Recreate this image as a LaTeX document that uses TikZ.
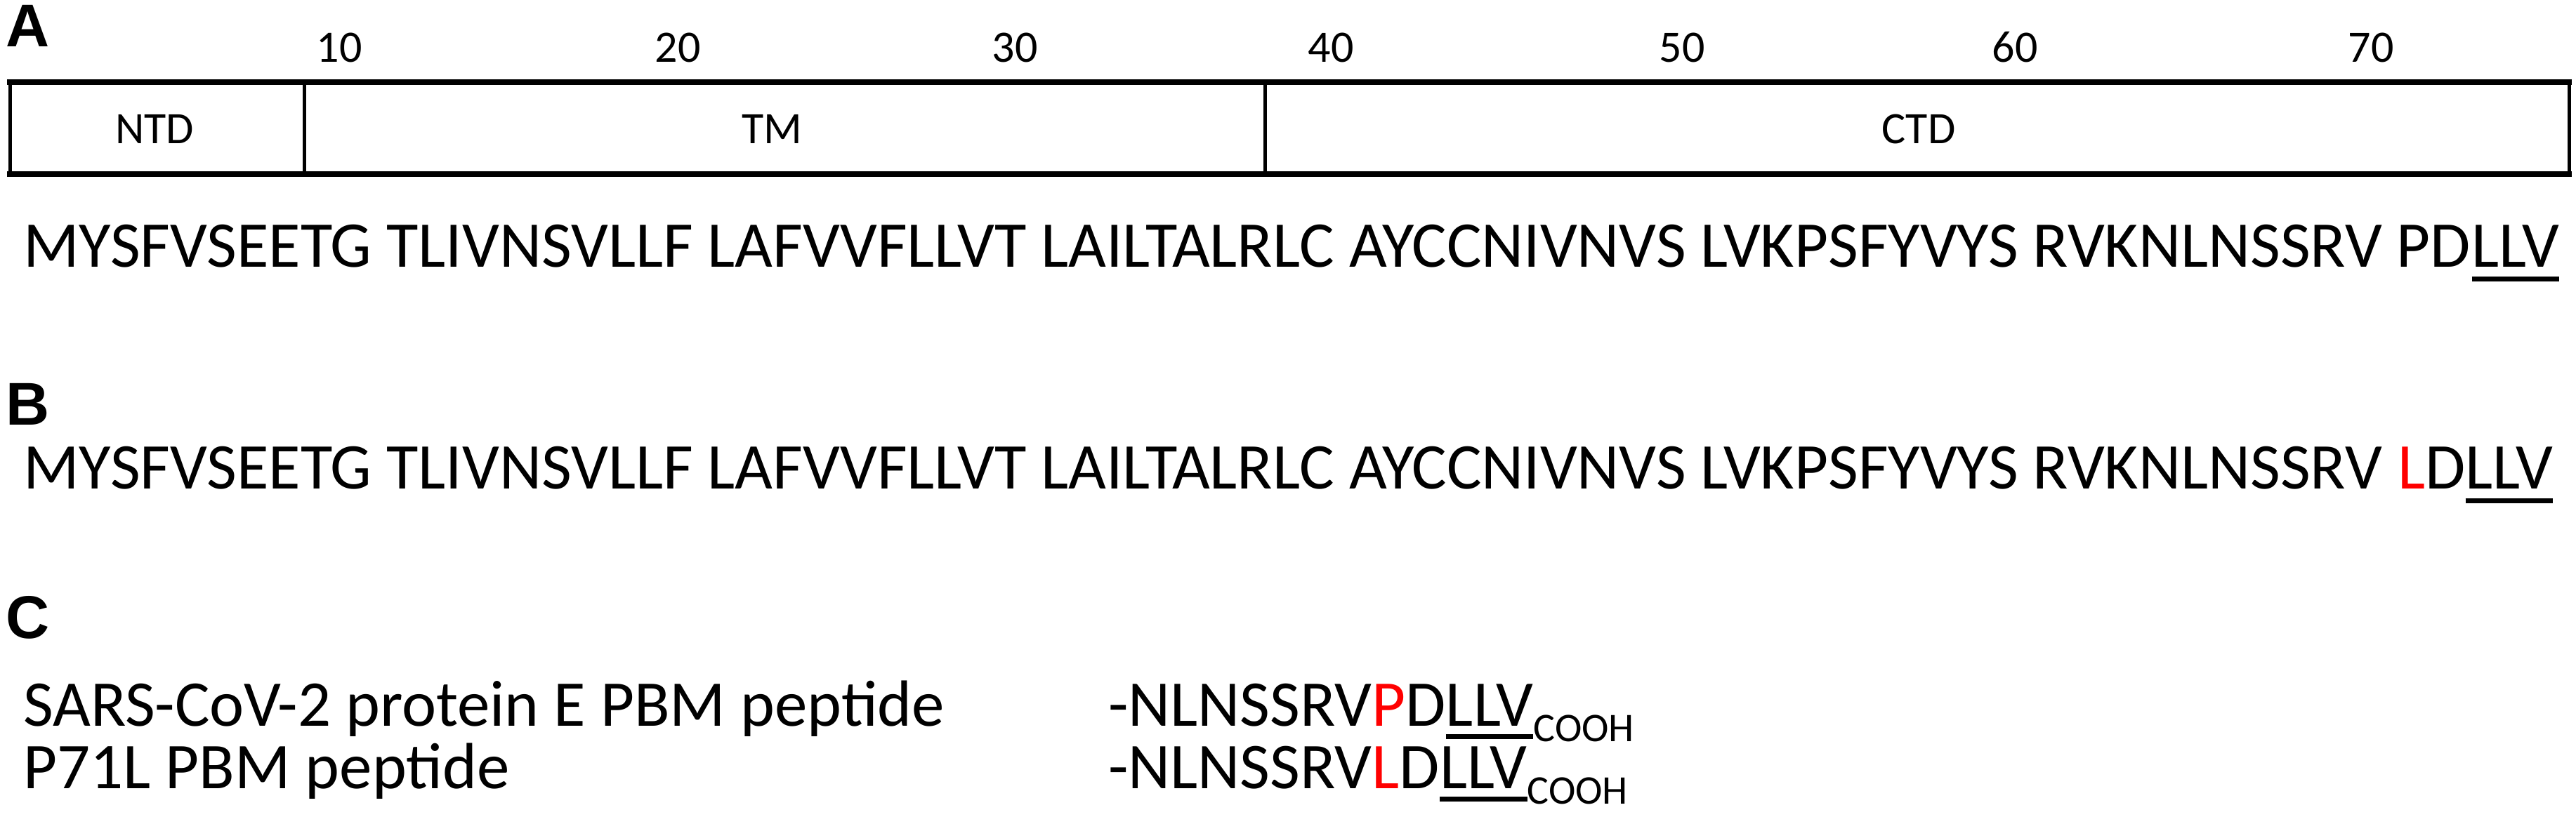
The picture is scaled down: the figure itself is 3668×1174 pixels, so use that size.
\documentclass[tikz,border=0pt]{standalone}
\usepackage{fontspec}
\setmainfont{Carlito}
\newfontfamily\panelfont{Liberation Sans}
\begin{document}
\begin{tikzpicture}[x=1pt,y=-1pt,
  seq/.style={inner sep=0pt, anchor=base west, font=\fontsize{93}{100}\selectfont},
  num/.style={inner sep=0pt, anchor=base, font=\fontsize{64}{70}\selectfont},
  dom/.style={inner sep=0pt, font=\fontsize{64}{70}\selectfont},
  sub/.style={inner sep=0pt, anchor=base west, font=\fontsize{58}{64}\selectfont},
  panel/.style={inner sep=0pt, anchor=base west, font=\panelfont\bfseries\fontsize{86}{90}\selectfont},
  ul/.style={line width=7pt},
  hline/.style={line width=8pt, line cap=rect},
  vline/.style={line width=5pt}]
\useasboundingbox (0,0) rectangle (3668,1174);
% Panel A
\node[panel] (pA) at (8,67) {A};
\node[num] (n10) at (483,89) {10};
\node[num] (n20) at (965,89) {20};
\node[num] (n30) at (1445,89) {30};
\node[num] (n40) at (1895,89) {40};
\node[num] (n50) at (2395,89) {50};
\node[num] (n60) at (2869,89) {60};
\node[num] (n70) at (3376,89) {70};
\coordinate (tl) at (14,117);
\coordinate (tr) at (3658,117);
\coordinate (bl) at (14,248);
\coordinate (br) at (3658,248);
\coordinate (d1t) at (433,117);
\coordinate (d1b) at (433,248);
\coordinate (d2t) at (1801,117);
\coordinate (d2b) at (1801,248);
\draw[vline] (tl) -- (bl);
\draw[vline] (tr) -- (br);
\draw[vline] (d1t) -- (d1b);
\draw[vline] (d2t) -- (d2b);
\draw[hline] (tl) -- (tr);
\draw[hline] (bl) -- (br);
\node[dom] (ntd) at (220,184) {NTD};
\node[dom] (tm) at (1099,184) {TM};
\node[dom] (ctd) at (2732,184) {CTD};
\node[seq] (seqA) at (33,380) {MYSFVSEETG TLIVNSVLLF LAFVVFLLVT LAILTALRLC AYCCNIVNVS LVKPSFYVYS RVKNLNSSRV PD};
\node[seq] (llvA) at (seqA.base east) {LLV};
\draw[ul] ([yshift=-17pt]llvA.base west) -- ([yshift=-17pt]llvA.base east);
% Panel B
\node[panel] (pB) at (8,605) {B};
\node[seq] (seqB) at (33,696) {MYSFVSEETG TLIVNSVLLF LAFVVFLLVT LAILTALRLC AYCCNIVNVS LVKPSFYVYS RVKNLNSSRV \textcolor{red}{L}D};
\node[seq] (llvB) at (seqB.base east) {LLV};
\draw[ul] ([yshift=-17pt]llvB.base west) -- ([yshift=-17pt]llvB.base east);
% Panel C
\node[panel] (pC) at (8,909) {C};
\node[seq] (c1) at (33,1034) {SARS-CoV-2 protein E PBM peptide};
\node[seq] (p1) at (1578,1034) {-NLNSSRV\textcolor{red}{P}D};
\node[seq] (l1) at (p1.base east) {LLV};
\node[sub] (s1) at ([yshift=-22pt]l1.base east) {COOH};
\draw[ul] ([yshift=-15pt]l1.base west) -- ([yshift=-15pt]l1.base east);
\node[seq] (c2) at (33,1123) {P71L PBM peptide};
\node[seq] (p2) at (1578,1123) {-NLNSSRV\textcolor{red}{L}D};
\node[seq] (l2) at (p2.base east) {LLV};
\node[sub] (s2) at ([yshift=-22pt]l2.base east) {COOH};
\draw[ul] ([yshift=-15pt]l2.base west) -- ([yshift=-15pt]l2.base east);
\end{tikzpicture}
\end{document}
